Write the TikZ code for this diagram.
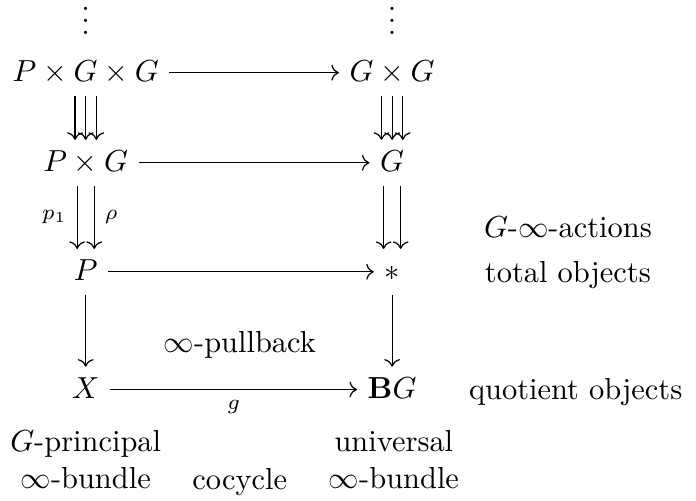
\documentclass[tikz,border=0pt]{standalone}
\usepackage{amsmath,amssymb}
\usetikzlibrary{arrows.meta}

\begin{document}
\begin{tikzpicture}[
  >={To},
  obj/.style={text height=1.6ex, text depth=0.25ex},
  lbl/.style={font=\scriptsize},
  note/.style={align=center},
]
\useasboundingbox (0,0) rectangle (8.04,-5.78);
% simplicial tower
\node[anchor=base] (dotsl) at (0.99,-0.40) {$\vdots$};
\node[anchor=base] (dotsr) at (4.53,-0.40) {$\vdots$};
\node[obj] (pgg) at (0.99,-0.84) {$P\times G\times G$};
\node[obj] (gg) at (4.53,-0.84) {$G\times G$};
\node[obj] (pg) at (0.99,-1.88) {$P\times G$};
\node[obj] (g) at (4.53,-1.88) {$G$};
\node[obj] (p) at (0.99,-3.14) {$P$};
\node[obj] (pt) at (4.53,-3.14) {$*$};
\node[obj] (x) at (0.99,-4.50) {$X$};
\node[obj] (bg) at (4.53,-4.50) {$\mathbf{B}G$};
% horizontal maps
\draw[->] (pgg) -- (gg);
\draw[->] (pg) -- (g);
\draw[->] (p) -- (pt);
\draw[->] (x) -- node[lbl, below] {$g$} (bg);
% face maps
\foreach \s in {-3.5pt,0pt,3.5pt} {
  \draw[->] ([xshift=\s]pgg.south) -- ([xshift=\s]pg.north);
  \draw[->] ([xshift=\s]gg.south) -- ([xshift=\s]g.north);
}
\draw[->] ([xshift=-2.8pt]pg.south) -- node[lbl, left] {$p_1$} ([xshift=-2.8pt]p.north);
\draw[->] ([xshift=2.8pt]pg.south) -- node[lbl, right] {$\rho$} ([xshift=2.8pt]p.north);
\draw[->] ([xshift=-2.8pt]g.south) -- ([xshift=-2.8pt]pt.north);
\draw[->] ([xshift=2.8pt]g.south) -- ([xshift=2.8pt]pt.north);
\draw[->] (p) -- (x);
\draw[->] (pt) -- (bg);
% annotations
\node[anchor=base] (pb) at (2.77,-4.07) {$\infty$-pullback};
\node[anchor=base] (act) at (6.56,-2.74) {$G$-$\infty$-actions};
\node[anchor=base] (tot) at (6.56,-3.26) {total objects};
\node[anchor=base] (quot) at (6.65,-4.62) {quotient objects};
\node[note] (prin) at (0.99,-5.31) {$G$-principal\\$\infty$-bundle};
\node[anchor=base] (coc) at (2.77,-5.66) {cocycle};
\node[note] (univ) at (4.55,-5.31) {universal\\$\infty$-bundle};
\end{tikzpicture}
\end{document}
